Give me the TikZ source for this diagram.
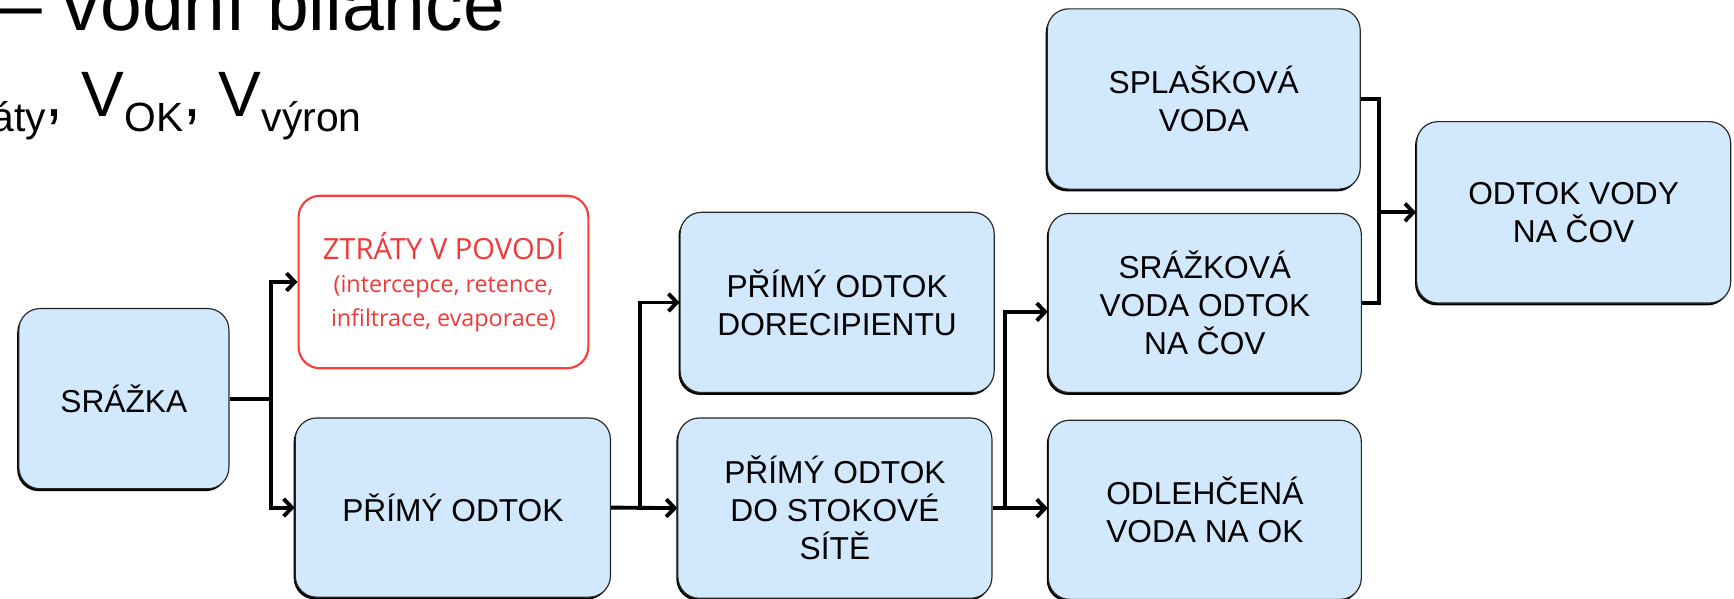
\documentclass[tikz,border=0pt]{standalone}
\usepackage{fontspec}
\setmainfont{Liberation Sans}
\newfontfamily\opensans{Open Sans}
\usetikzlibrary{arrows.meta,shadows,calc}
\definecolor{boxblue}{RGB}{210,232,252}
\definecolor{lossred}{RGB}{255,60,60}
\definecolor{losstext}{RGB}{245,55,55}
\begin{document}
\begin{tikzpicture}[x=0.2mm,y=-0.2mm,
  bluebox/.style={draw=black!85, line width=0.6pt, fill=boxblue, rounded corners=11pt,
    align=center, inner sep=0pt, font=\fontsize{16.3}{19.5}\selectfont,
    drop shadow={shadow xshift=-0.8pt, shadow yshift=-1.2pt, fill=black, opacity=1}},
  redbox/.style={draw=lossred, line width=1.1pt, fill=white, rounded corners=11pt,
    align=center, inner sep=0pt, text=losstext, font=\opensans\fontsize{12}{17.2}\selectfont},
  conn/.style={line width=2pt, black},
  arr/.style={conn, -{Straight Barb[length=4.3pt,width=9pt]}}]
\useasboundingbox (0,0) rectangle (1568,541);
\clip (0,0) rectangle (1568,541);

% title fragments
\node[anchor=base west, inner sep=0pt, font=\fontsize{38.6}{42}\selectfont] (title) at (0,27.7) {– vodní bilance};
\node[anchor=base west, inner sep=0pt, font=\fontsize{33}{37}\selectfont] (sub) at (-8,105.5)
  {\raisebox{-7.5pt}{\fontsize{21}{23}\selectfont áty}, V\raisebox{-7.5pt}{\fontsize{21}{23}\selectfont OK}, V\raisebox{-7.5pt}{\fontsize{21}{23}\selectfont výron}};

% boxes
\node[bluebox, minimum width=38mm, minimum height=32.6mm] (srazka) at (112,360.5) {SRÁŽKA};
\node[redbox, minimum width=52.4mm, minimum height=31.2mm] (ztraty) at (401,255)
  {{\fontsize{15}{17.2}\selectfont ZTRÁTY V POVODÍ}\\(intercepce, retence,\\infiltrace, evaporace)};
\node[bluebox, minimum width=57mm, minimum height=32.4mm] (primy) at (409.5,459) {PŘÍMÝ ODTOK};
\node[bluebox, minimum width=56.8mm, minimum height=32.6mm] (dorec) at (757,273.5) {PŘÍMÝ ODTOK\\DORECIPIENTU};
\node[bluebox, minimum width=56.8mm, minimum height=32.6mm] (stok) at (755,459.5) {PŘÍMÝ ODTOK\\DO STOKOVÉ\\SÍTĚ};
\node[bluebox, minimum width=56.6mm, minimum height=32.6mm] (splas) at (1088.5,89.5) {SPLAŠKOVÁ\\VODA};
\node[bluebox, minimum width=56.6mm, minimum height=32.4mm] (srazk) at (1089.5,274) {SRÁŽKOVÁ\\VODA ODTOK\\NA ČOV};
\node[bluebox, minimum width=56.6mm, minimum height=32.4mm] (odleh) at (1089.5,461) {ODLEHČENÁ\\VODA NA OK};
\node[bluebox, minimum width=56.8mm, minimum height=32.8mm] (odtok) at (1423,192) {ODTOK VODY\\NA ČOV};

% junctions
\coordinate (j1) at (245,360.5);
\coordinate (j2) at (579,459);
\coordinate (j3) at (909,459.5);
\coordinate (j4) at (1247,192);

% connectors
\draw[conn] (srazka.east) -- (j1);
\draw[arr] (j1) |- (ztraty.west);
\draw[arr] (j1) |- (primy.west);
\draw[arr] (primy.east) -- (stok.west);
\draw[arr] (j2) |- (dorec.west);
\draw[arr] (stok.east) -- (stok.east -| odleh.west);
\draw[arr] (j3) |- ($(srazk.west)+(0,8)$);
\draw[conn] (splas.east) -| (j4) -- (j4 |- srazk.east) -- (srazk.east);
\draw[arr] (j4) -- (odtok.west);
\end{tikzpicture}
\end{document}
